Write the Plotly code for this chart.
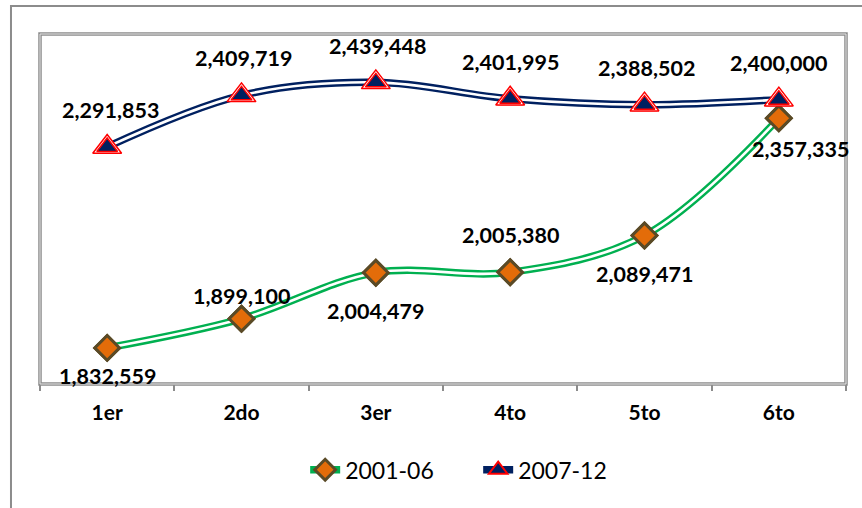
import plotly.graph_objects as go

categories = ["1er", "2do", "3er", "4to", "5to", "6to"]
series_2001 = [1832559, 1899100, 2004479, 2005380, 2089471, 2357335]
series_2007 = [2291853, 2409719, 2439448, 2401995, 2388502, 2400000]
name_2001 = "2001-06"
name_2007 = "2007-12"

# label offsets (pixels) – styling only
shift_2001_y = [-28, 23, -38, 37, -39, -31]
shift_2001_x = [0, 0, 0, 0, 0, 22]
shift_2007_y = [37, 37, 36, 37, 37, 37]
shift_2007_x = [3, 2, 2, 0, 2, 0]

GREEN = "#00B050"
NAVY = "#002060"
ORANGE = "#E36C09"
BROWN = "#5A4A26"
RED = "#FF0000"
FONT = "Lato"

fig = go.Figure()

# 2001-06 series: double line
fig.add_trace(go.Scatter(
    x=categories, y=series_2001, name=name_2001, mode="lines+markers",
    line=dict(color=GREEN, width=7.5, shape="spline", smoothing=1),
    marker=dict(symbol="diamond", size=19, color=ORANGE, line=dict(color=BROWN, width=3)),
))
fig.add_trace(go.Scatter(
    x=categories, y=series_2001, showlegend=False, mode="lines", hoverinfo="skip",
    line=dict(color="white", width=2.6, shape="spline", smoothing=1),
))
# 2007-12 series: double line
fig.add_trace(go.Scatter(
    x=categories, y=series_2007, name=name_2007, mode="lines+markers",
    line=dict(color=NAVY, width=7.5, shape="spline", smoothing=1),
    marker=dict(symbol="triangle-up", size=22, color=NAVY, line=dict(color=RED, width=2)),
))
fig.add_trace(go.Scatter(
    x=categories, y=series_2007, showlegend=False, mode="lines", hoverinfo="skip",
    line=dict(color="white", width=2.6, shape="spline", smoothing=1),
))
# markers on top
fig.add_trace(go.Scatter(
    x=categories, y=series_2001, showlegend=False, mode="markers", hoverinfo="skip",
    marker=dict(symbol="diamond", size=19, color=ORANGE, line=dict(color=BROWN, width=3)),
))
fig.add_trace(go.Scatter(
    x=categories, y=series_2007, showlegend=False, mode="markers", hoverinfo="skip",
    marker=dict(symbol="triangle-up", size=25, color="white", line=dict(color=RED, width=1.5)),
))
fig.add_trace(go.Scatter(
    x=categories, y=series_2007, showlegend=False, mode="markers", hoverinfo="skip",
    marker=dict(symbol="triangle-up", size=18, color=NAVY, line=dict(color=RED, width=1.5)),
))

annotations = []
for c, v, dx, dy in zip(categories, series_2001, shift_2001_x, shift_2001_y):
    annotations.append(dict(x=c, y=v, xref="x", yref="y", text=f"{v:,}", showarrow=False,
                            xshift=dx, yshift=dy, font=dict(family=FONT, size=21.5, color="black", weight="bold")))
for c, v, dx, dy in zip(categories, series_2007, shift_2007_x, shift_2007_y):
    annotations.append(dict(x=c, y=v, xref="x", yref="y", text=f"{v:,}", showarrow=False,
                            xshift=dx, yshift=dy, font=dict(family=FONT, size=21.5, color="black", weight="bold")))

shapes = [
    # outer chart border
    dict(type="rect", xref="paper", yref="paper", x0=-0.036, x1=1.2, y0=-0.6, y1=1.08,
         line=dict(color="#8C8C8C", width=2), layer="below"),
    # plot area double frame
    dict(type="rect", xref="paper", yref="paper", x0=0, x1=1, y0=0, y1=1,
         line=dict(color="#8C8C8C", width=3.5), layer="below"),
    dict(type="rect", xref="paper", yref="paper", x0=0, x1=1, y0=0, y1=1,
         line=dict(color="#E4E4E4", width=1), layer="below"),
]

fig.update_layout(
    width=862, height=508,
    margin=dict(l=40, r=16, t=34, b=124),
    paper_bgcolor="white", plot_bgcolor="white",
    font=dict(family=FONT, color="black"),
    showlegend=True,
    legend=dict(orientation="h", x=0.329, xanchor="left", y=-0.245, yanchor="middle",
                font=dict(family=FONT, size=23, color="black"), itemwidth=30,
                entrywidth=128, entrywidthmode="pixels",
                bgcolor="rgba(0,0,0,0)"),
    xaxis=dict(type="category", range=[-0.5, 5.5], showgrid=False, zeroline=False,
               showline=False, ticks="outside", tickson="boundaries", ticklen=6,
               tickcolor="#8C8C8C", tickwidth=2,
               tickfont=dict(family=FONT, size=21, color="black", weight="bold"),
               ticklabelstandoff=14),
    yaxis=dict(range=[1750000, 2550000], visible=False, showgrid=False, zeroline=False),
    annotations=annotations,
    shapes=shapes,
)

fig.write_html("out.html", config={"displayModeBar": False},
               post_script="document.body.style.margin='0';document.body.style.overflow='hidden';")
